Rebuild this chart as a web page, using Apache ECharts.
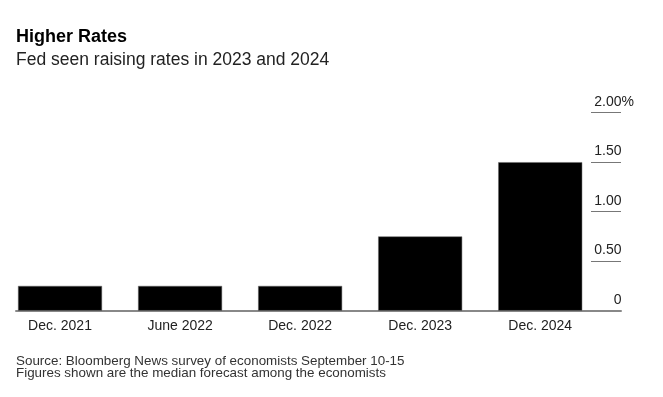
<!DOCTYPE html>
<html>
<head>
<meta charset="utf-8">
<script src="https://cdn.jsdelivr.net/npm/echarts@6/dist/echarts.min.js"></script>
<style>
  html, body { margin: 0; padding: 0; background: #fff; }
  #chart { width: 663px; height: 397px; }
</style>
</head>
<body>
<div id="chart"></div>
<script>
// median forecast of the fed funds upper bound, percent
const categories = ["Dec. 2021", "June 2022", "Dec. 2022", "Dec. 2023", "Dec. 2024"];
const rates = [0.25, 0.25, 0.25, 0.75, 1.5];
const yTicks = [0, 0.5, 1, 1.5, 2];

const chart = echarts.init(document.getElementById("chart"));
const font = "Liberation Sans, Arial, sans-serif";
const plotTop = 112.7;
const plotBottom = 86.3;

chart.setOption({
    animation: false,
    title: [
        {
            text: "Higher Rates",
            left: 16, top: 28, padding: 0,
            textStyle: { fontFamily: font, fontSize: 18, fontWeight: "bold", color: "#000" }
        },
        {
            text: "Fed seen raising rates in 2023 and 2024",
            left: 16, top: 51.5, padding: 0,
            textStyle: { fontFamily: font, fontSize: 17.5, fontWeight: "normal", color: "#222" }
        },
        {
            text: "Source: Bloomberg News survey of economists September 10-15\nFigures shown are the median forecast among the economists",
            left: 16, top: 356, padding: 0,
            textStyle: { fontFamily: font, fontSize: 13.4, fontWeight: "normal", color: "#333", lineHeight: 11.5 }
        }
    ],
    grid: [
        // bars
        { left: -2.25, width: 602.5, top: plotTop, bottom: plotBottom },
        // baseline
        { left: 16, right: 42, top: plotTop, bottom: plotBottom },
        // short gridlines and labels on the right
        { left: 591, right: 42, top: plotTop, bottom: plotBottom }
    ],
    xAxis: [
        {
            type: "category", gridIndex: 0, data: categories,
            axisLine: { show: false }, axisTick: { show: false },
            axisLabel: { fontFamily: font, fontSize: 14, color: "#222", margin: 8 }
        },
        {
            type: "value", gridIndex: 1, min: 0, max: 1,
            axisLine: { show: true, lineStyle: { color: "#888", width: 2 } },
            axisTick: { show: false }, axisLabel: { show: false }, splitLine: { show: false }
        },
        { type: "value", gridIndex: 2, min: 0, max: 1, show: false }
    ],
    yAxis: [
        { type: "value", gridIndex: 0, min: 0, max: 2, show: false },
        { type: "value", gridIndex: 1, min: 0, max: 2, show: false },
        {
            type: "value", gridIndex: 2, position: "right", min: 0, max: 2, interval: 0.5,
            axisLine: { show: false },
            axisTick: { show: false },
            splitLine: { show: true, lineStyle: { color: "#777", width: 1 } },
            axisLabel: {
                inside: true, margin: -13,
                verticalAlign: "bottom", padding: [0, 0, 4, 0],
                fontFamily: font, fontSize: 14, color: "#222",
                formatter: function (v) {
                    const s = v === 0 ? "0" : v.toFixed(2);
                    return v === yTicks[yTicks.length - 1] ? "{n|" + s + "}{n|%}" : "{n|" + s + "}{h|%}";
                },
                rich: {
                    n: { fontFamily: font, fontSize: 14, color: "#222" },
                    h: { fontFamily: font, fontSize: 14, color: "rgba(0,0,0,0)" }
                }
            }
        }
    ],
    series: [
        {
            type: "bar", xAxisIndex: 0, yAxisIndex: 0,
            data: rates, barWidth: 84,
            itemStyle: { color: "#000", borderColor: "#666", borderWidth: 0.5 }
        }
    ]
});
</script>
</body>
</html>
